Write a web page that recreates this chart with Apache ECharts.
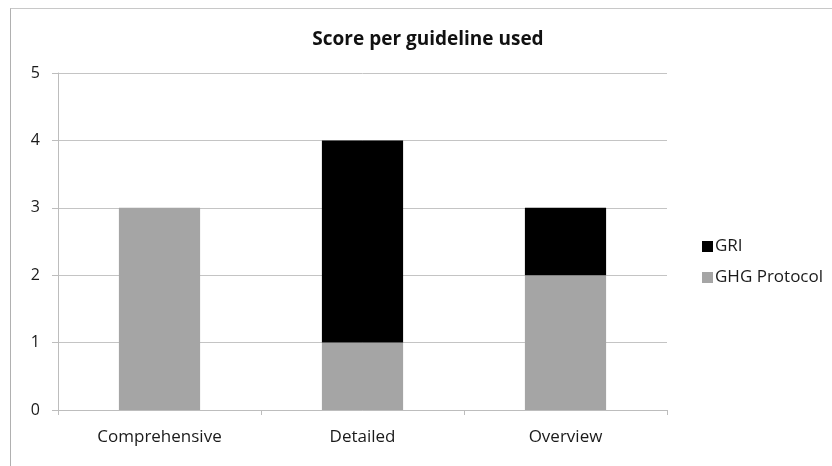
<!DOCTYPE html>
<html><head><meta charset="utf-8">
<script src="https://cdn.jsdelivr.net/npm/echarts@6/dist/echarts.min.js"></script>
<style>
html,body{margin:0;padding:0;background:#fff;}
#frame{position:absolute;left:10px;top:8px;width:830px;height:470px;border-top:1.5px solid #c8c8c8;border-left:1.5px solid #b0b0b0;}
#c{position:absolute;left:0;top:0;width:832px;height:466px;}
</style></head>
<body>
<div id="frame"></div>
<div id="c"></div>
<script>
var categories = ['Comprehensive', 'Detailed', 'Overview'];
var ghgProtocol = [3, 1, 2];
var gri = [0, 3, 1];
var yTicks = [0, 1, 2, 3, 4, 5];

var font = '"Open Sans", "Noto Sans", sans-serif';
var chart = echarts.init(document.getElementById('c'), null, {renderer: 'canvas'});
chart.setOption({
  backgroundColor: 'transparent',
  animation: false,
  title: {
    text: 'Score per guideline used',
    left: 423, top: 25, textAlign: 'center',
    textStyle: {fontFamily: font, fontSize: 19, fontWeight: 'bold', color: '#111'}
  },
  legend: {
    orient: 'vertical', left: 697, top: 233, itemGap: 14,
    itemWidth: 11, itemHeight: 11, icon: 'rect',
    data: ['GRI', 'GHG Protocol'],
    textStyle: {fontFamily: font, fontSize: 17, color: '#1a1a1a', padding: [0, 0, 0, -3]}
  },
  grid: {left: 58, right: 165, top: 73, bottom: 56},
  xAxis: {
    type: 'category', data: categories,
    axisLine: {lineStyle: {color: '#bdbdbd', width: 1}},
    axisTick: {show: true, length: 5, lineStyle: {color: '#bdbdbd'}},
    axisLabel: {fontFamily: font, fontSize: 17, color: '#1a1a1a', margin: 19}
  },
  yAxis: {
    type: 'value', min: yTicks[0], max: yTicks[yTicks.length - 1], interval: 1,
    axisLine: {show: true, lineStyle: {color: '#bdbdbd', width: 1}},
    axisTick: {show: true, length: 6, lineStyle: {color: '#bdbdbd'}},
    splitLine: {lineStyle: {color: '#c4c4c4', width: 1}},
    axisLabel: {fontFamily: font, fontSize: 16, color: '#1a1a1a', margin: 18}
  },
  series: [
    {name: 'GHG Protocol', type: 'bar', stack: 's', data: ghgProtocol, barWidth: '40%',
     itemStyle: {color: '#a5a5a5'}},
    {name: 'GRI', type: 'bar', stack: 's', data: gri, barWidth: '40%',
     itemStyle: {color: '#000000'}}
  ]
});
</script>
</body></html>
